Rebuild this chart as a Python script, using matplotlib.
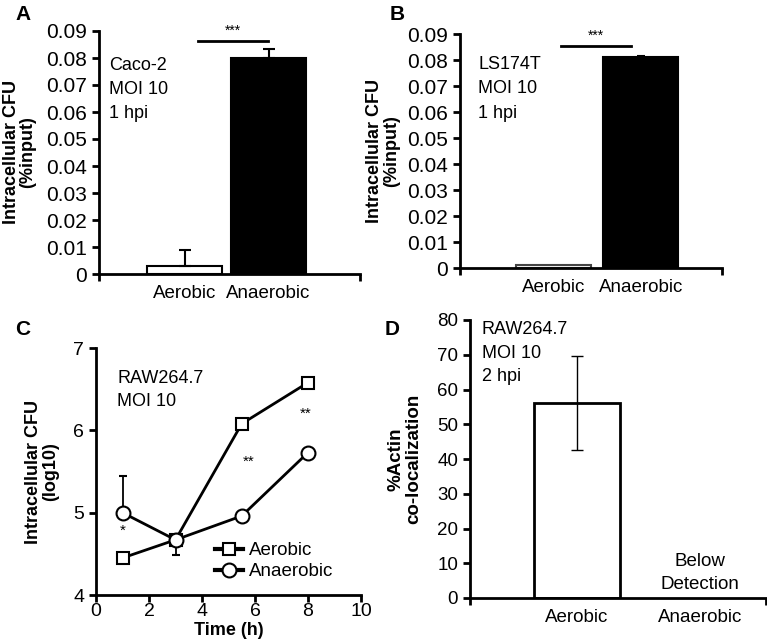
import numpy as np
import matplotlib
matplotlib.use('Agg')
import matplotlib.pyplot as plt
from matplotlib.lines import Line2D

plt.rcParams['font.family'] = ['Liberation Sans', 'DejaVu Sans']

# ==========================================================================================
# Dados
conditions = ['Aerobic', 'Anaerobic']

caco_vals = [0.003, 0.080]
caco_err = [0.006, 0.0035]

ls_vals = [0.001, 0.081]
ls_err = [0.0, 0.0005]

time_h = [1, 3, 5.5, 8]
aer_log = [4.45, 4.67, 6.08, 6.58]
aer_err_lo = [0.03, 0.18, 0.03, 0.04]
aer_err_hi = [0.03, 0.0, 0.03, 0.04]
anaer_log = [5.00, 4.67, 4.96, 5.73]
anaer_err_lo = [0.0, 0.03, 0.03, 0.03]
anaer_err_hi = [0.44, 0.03, 0.03, 0.03]

actin_vals = [56, 0]
actin_err = [13.5, 0]

W, H = 767, 642
fs_txt = 13
fs_cat = 13.5
fs_lab = 13


def px_axes(fig, l, r, t, b):
    return fig.add_axes([l / W, (H - b) / H, (r - l) / W, (b - t) / H])


def style(ax, fs):
    for s in ['top', 'right']:
        ax.spines[s].set_visible(False)
    for s in ['left', 'bottom']:
        ax.spines[s].set_linewidth(2)
    ax.tick_params(width=2, length=5, labelsize=fs, direction='out')


fig = plt.figure(figsize=(W / 100, H / 100), dpi=100)

# ==========================================================================================
# A - Caco-2
ax = px_axes(fig, 99, 360, 31, 274)
style(ax, 15)
x = np.arange(len(conditions))
ax.bar(x, caco_vals, width=0.89, color=['white', 'black'], edgecolor='black', linewidth=1.5, zorder=2)
ax.errorbar(x, caco_vals, yerr=[[0, 0], caco_err], fmt='none', ecolor='black', elinewidth=1.5, capsize=4, capthick=1.5, zorder=3)
ax.set_xlim(-1.02, 2.09)
ax.set_ylim(0, 0.09)
ax.set_yticks(np.arange(0, 0.091, 0.01))
ax.set_yticklabels(['0'] + ['%.2f' % v for v in np.arange(0.01, 0.091, 0.01)])
ax.set_xticks(x)
ax.set_xticklabels(conditions, fontsize=fs_cat)
ax.tick_params(axis='x', length=0, pad=8)
ax.set_xticks([-1.02, 2.09], minor=True)
ax.tick_params(axis='x', which='minor', length=5, width=2)
ax.set_ylabel('Intracellular CFU\n(%input)', fontsize=fs_lab, fontweight='bold', labelpad=7, linespacing=1.0)
ax.plot([0.16, 0.99], [0.0863, 0.0863], color='black', lw=2, clip_on=False)
ax.text(0.58, 0.0875, '***', ha='center', va='bottom', fontsize=10)
ax.text(0.04, 0.895, 'Caco-2\nMOI 10\n1 hpi', transform=ax.transAxes, ha='left', va='top', fontsize=fs_txt, linespacing=1.55)
fig.text(15 / W, 1 - 14 / H, 'A', fontsize=15, fontweight='bold', va='center', ha='left')

# ==========================================================================================
# B - LS174T
ax = px_axes(fig, 460, 722, 34, 268)
style(ax, 15)
ax.bar(x, ls_vals, width=0.86, color=['white', 'black'], edgecolor=['#444444', 'black'], linewidth=1.5, zorder=2)
ax.errorbar(x[1:], ls_vals[1:], yerr=[[0], ls_err[1:]], fmt='none', ecolor='black', elinewidth=1.5, capsize=3, capthick=1.5, zorder=3)
ax.set_xlim(-1.07, 1.93)
ax.set_ylim(0, 0.09)
ax.set_yticks(np.arange(0, 0.091, 0.01))
ax.set_yticklabels(['0'] + ['%.2f' % v for v in np.arange(0.01, 0.091, 0.01)])
ax.set_xticks(x)
ax.set_xticklabels(conditions, fontsize=fs_cat)
ax.tick_params(axis='x', length=0, pad=8)
ax.set_xticks([-1.07, 1.93], minor=True)
ax.tick_params(axis='x', which='minor', length=5, width=2)
ax.set_ylabel('Intracellular CFU\n(%input)', fontsize=fs_lab, fontweight='bold', labelpad=5, linespacing=1.0)
ax.plot([0.09, 0.89], [0.0855, 0.0855], color='black', lw=2, clip_on=False)
ax.text(0.49, 0.0868, '***', ha='center', va='bottom', fontsize=10)
ax.text(0.07, 0.905, 'LS174T\nMOI 10\n1 hpi', transform=ax.transAxes, ha='left', va='top', fontsize=fs_txt, linespacing=1.55)
fig.text(390 / W, 1 - 15 / H, 'B', fontsize=15, fontweight='bold', va='center', ha='left')

# ==========================================================================================
# C - RAW264.7 curva temporal
ax = px_axes(fig, 96, 361, 348, 595)
style(ax, 14)
ax.errorbar(time_h, aer_log, yerr=[aer_err_lo, aer_err_hi], fmt='-s', color='black', mfc='white', mec='black',
            ms=9, mew=1.5, lw=2, elinewidth=1.3, capsize=3)
ax.errorbar(time_h, anaer_log, yerr=[anaer_err_lo, anaer_err_hi], fmt='-o', color='black', mfc='white', mec='black',
            ms=10, mew=1.5, lw=2, elinewidth=1.3, capsize=3)
ax.set_xlim(0, 10)
ax.set_ylim(4, 7)
ax.set_xticks(range(0, 11, 2))
ax.set_yticks([4, 5, 6, 7])
ax.tick_params(axis='x', pad=1)
ax.set_xlabel('Time (h)', fontsize=fs_lab, fontweight='bold', labelpad=1)
ax.set_ylabel('Intracellular CFU\n(log10)', fontsize=fs_lab, fontweight='bold', labelpad=10, linespacing=1.0)
ax.text(1.0, 4.70, '*', ha='center', va='bottom', fontsize=11)
ax.text(5.75, 5.53, '**', ha='center', va='bottom', fontsize=11)
ax.text(7.9, 6.12, '**', ha='center', va='bottom', fontsize=11)
ax.text(0.08, 0.91, 'RAW264.7\nMOI 10', transform=ax.transAxes, ha='left', va='top', fontsize=fs_txt, linespacing=1.45)
handles = [Line2D([], [], color='black', lw=3, marker='s', ms=9, mfc='white', mec='black', mew=1.5),
           Line2D([], [], color='black', lw=3, marker='o', ms=10, mfc='white', mec='black', mew=1.5)]
ax.legend(handles, conditions, loc='lower left', bbox_to_anchor=(0.42, 0.03), frameon=False, fontsize=fs_cat,
          handlelength=1.5, handletextpad=0.3, labelspacing=0.2, borderaxespad=0)
fig.text(15 / W, 1 - 330 / H, 'C', fontsize=15, fontweight='bold', va='center', ha='left')

# ==========================================================================================
# D - co-localizacao de actina
ax = px_axes(fig, 470, 766, 320, 598)
style(ax, 13.5)
ax.bar(x[:1], actin_vals[:1], width=0.7, color='white', edgecolor='black', linewidth=2, zorder=2)
ax.errorbar(x[:1], actin_vals[:1], yerr=actin_err[:1], fmt='none', ecolor='black', elinewidth=1, capsize=4, capthick=1, zorder=3)
ax.set_xlim(-0.87, 1.54)
ax.set_ylim(0, 80)
ax.set_yticks(range(0, 81, 10))
ax.set_xticks(x)
ax.set_xticklabels(conditions, fontsize=fs_cat)
ax.tick_params(axis='x', length=0, pad=8)
ax.set_xticks([-0.87, 1.54], minor=True)
ax.tick_params(axis='x', which='minor', length=5, width=2)
ax.set_ylabel('%Actin\nco-localization', fontsize=13.5, fontweight='bold', labelpad=11, linespacing=1.0)
ax.text(1, 1.5, 'Below\nDetection', ha='center', va='bottom', fontsize=fs_cat, linespacing=1.45)
ax.text(0.04, 0.995, 'RAW264.7\nMOI 10\n2 hpi', transform=ax.transAxes, ha='left', va='top', fontsize=fs_txt, linespacing=1.5)
fig.text(385 / W, 1 - 330 / H, 'D', fontsize=15, fontweight='bold', va='center', ha='left')

fig.savefig('out.png', dpi=100)
